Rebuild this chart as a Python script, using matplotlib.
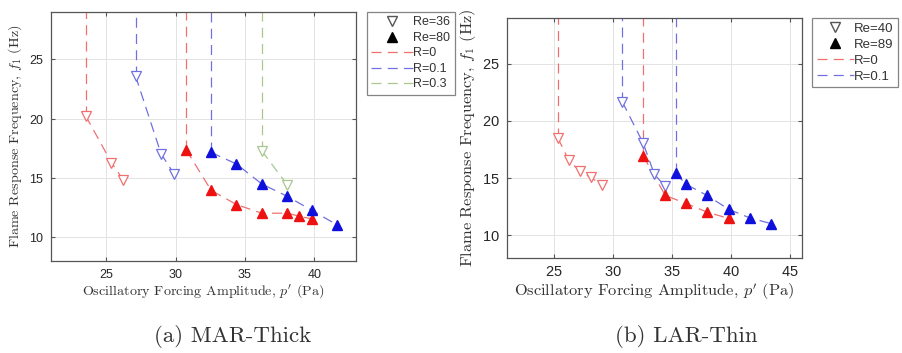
import matplotlib
matplotlib.use("Agg")
import matplotlib.pyplot as plt
from matplotlib.lines import Line2D

plt.rcParams['mathtext.fontset'] = 'cm'
plt.rcParams['axes.formatter.use_mathtext'] = True

# (a) MAR-Thick
a_re36_r0_x = [23.5, 25.36, 26.2]
a_re36_r0_y = [20.24, 16.3, 14.86]
a_re36_r01_x = [27.1, 28.94, 29.86]
a_re36_r01_y = [23.6, 17.04, 15.36]
a_re36_r03_x = [36.2, 38.03]
a_re36_r03_y = [17.3, 14.44]
a_re80_r0_x = [30.75, 32.55, 34.38, 36.2, 38.03, 38.9, 39.8]
a_re80_r0_y = [17.38, 13.96, 12.76, 12.03, 12.03, 11.78, 11.55]
a_re80_r01_x = [32.55, 34.38, 36.2, 38.03, 39.8, 41.63]
a_re80_r01_y = [17.16, 16.18, 14.5, 13.46, 12.28, 11.05]

# (b) LAR-Thin
b_re40_r0_x = [25.3, 26.24, 27.2, 28.1, 29.03]
b_re40_r0_y = [18.52, 16.54, 15.57, 15.05, 14.38]
b_re40_r01_x = [30.77, 32.55, 33.48, 34.38]
b_re40_r01_y = [21.67, 18.03, 15.34, 14.29]
b_re89_r0_x = [32.55, 34.41, 36.2, 37.96, 39.8]
b_re89_r0_y = [16.92, 13.47, 12.77, 12.01, 11.46]
b_re89_r01_x = [35.28, 36.2, 37.96, 39.8, 41.56, 43.4]
b_re89_r01_y = [15.4, 14.44, 13.47, 12.25, 11.52, 11.0]

red_line = '#f07070'
blue_line = '#7070e0'
green_line = '#a8c890'
red = '#ee1111'
blue = '#1010dd'
dash = (0, (8, 5))
YTOP = 29


def series(ax, xs, ys, lc, mc, filled):
    ax.vlines(xs[0], ys[0], YTOP, colors=lc, linestyles=dash, lw=0.9, zorder=2)
    ax.plot(xs, ys, color=lc, ls=dash, lw=0.9, zorder=2)
    if filled:
        ax.plot(xs, ys, ls='none', marker='^', ms=7, mfc=mc, mec=mc, zorder=3)
    else:
        ax.plot(xs, ys, ls='none', marker='v', ms=7, mfc='white', mec=lc,
                mew=0.9, zorder=3)


def style(ax, xticks, fs_tick, fs_lab):
    ax.set_ylim(8, YTOP)
    ax.set_yticks([10, 15, 20, 25])
    ax.set_xticks(xticks)
    ax.grid(True, color='#e3e3e3', lw=0.7)
    ax.set_axisbelow(True)
    ax.tick_params(direction='in', length=3, top=True, right=True,
                   color='#555555', labelsize=fs_tick, pad=5)
    for lbl in ax.get_xticklabels() + ax.get_yticklabels():
        lbl.set_family('Liberation Sans')
        lbl.set_color('#262626')
    for s in ax.spines.values():
        s.set_color('#555555')
        s.set_linewidth(0.9)
    ax.set_xlabel("Oscillatory Forcing Amplitude, $p'$ (Pa)", family='cmr10',
                  fontsize=fs_lab, color='#333333', labelpad=1)
    ax.set_ylabel("Flame Response Frequency, $f_1$ (Hz)", family='cmr10',
                  fontsize=fs_lab, color='#333333', labelpad=3)


def legend(fig, x0, y0, names, lines, fs, hl):
    h = [Line2D([], [], ls='none', marker='v', ms=7, mfc='white', mec='#555555'),
         Line2D([], [], ls='none', marker='^', ms=7, mfc='black', mec='black')]
    for c in lines:
        h.append(Line2D([], [], color=c, ls=dash, lw=0.9))
    leg = fig.legend(h, names, loc='upper left', bbox_to_anchor=(x0, y0),
                     frameon=True, fancybox=False, handlelength=hl,
                     handletextpad=0.05, labelspacing=0.28, borderpad=0.35,
                     borderaxespad=0, prop={'family': 'Liberation Sans', 'size': fs})
    leg.get_frame().set_edgecolor('#666666')
    leg.get_frame().set_linewidth(0.9)
    for t in leg.get_texts():
        t.set_color('#333333')


fig = plt.figure(figsize=(9.02, 3.53), dpi=100)
W, H = 902, 353

ax1 = fig.add_axes([51 / W, 1 - 261 / H, 305 / W, 249 / H])
series(ax1, a_re36_r0_x, a_re36_r0_y, red_line, red, False)
series(ax1, a_re36_r01_x, a_re36_r01_y, blue_line, blue, False)
series(ax1, a_re80_r0_x, a_re80_r0_y, red_line, red, True)
series(ax1, a_re80_r01_x, a_re80_r01_y, blue_line, blue, True)
series(ax1, a_re36_r03_x, a_re36_r03_y, green_line, green_line, False)
ax1.set_xlim(21, 43)
style(ax1, [25, 30, 35, 40], 9, 10.2)
legend(fig, 367 / W, 1 - 12 / H, ['Re=36', 'Re=80', 'R=0', 'R=0.1', 'R=0.3'],
       [red_line, blue_line, green_line], 9, 3.3)

ax2 = fig.add_axes([507 / W, 1 - 258 / H, 295 / W, 240 / H])
series(ax2, b_re40_r0_x, b_re40_r0_y, red_line, red, False)
series(ax2, b_re40_r01_x, b_re40_r01_y, blue_line, blue, False)
series(ax2, b_re89_r0_x, b_re89_r0_y, red_line, red, True)
series(ax2, b_re89_r01_x, b_re89_r01_y, blue_line, blue, True)
ax2.set_xlim(21, 46)
style(ax2, [25, 30, 35, 40, 45], 10.5, 11.8)
legend(fig, 812 / W, 1 - 18 / H, ['Re=40', 'Re=89', 'R=0', 'R=0.1'],
       [red_line, blue_line], 9.5, 2.8)

fig.text(233 / W, 1 - 336 / H, '(a) MAR-Thick', family='cmr10', fontsize=16.5,
         ha='center', va='center', color='#333333')
fig.text(686 / W, 1 - 336 / H, '(b) LAR-Thin', family='cmr10', fontsize=16.5,
         ha='center', va='center', color='#333333')

fig.savefig('out.png', dpi=100, facecolor='white')
